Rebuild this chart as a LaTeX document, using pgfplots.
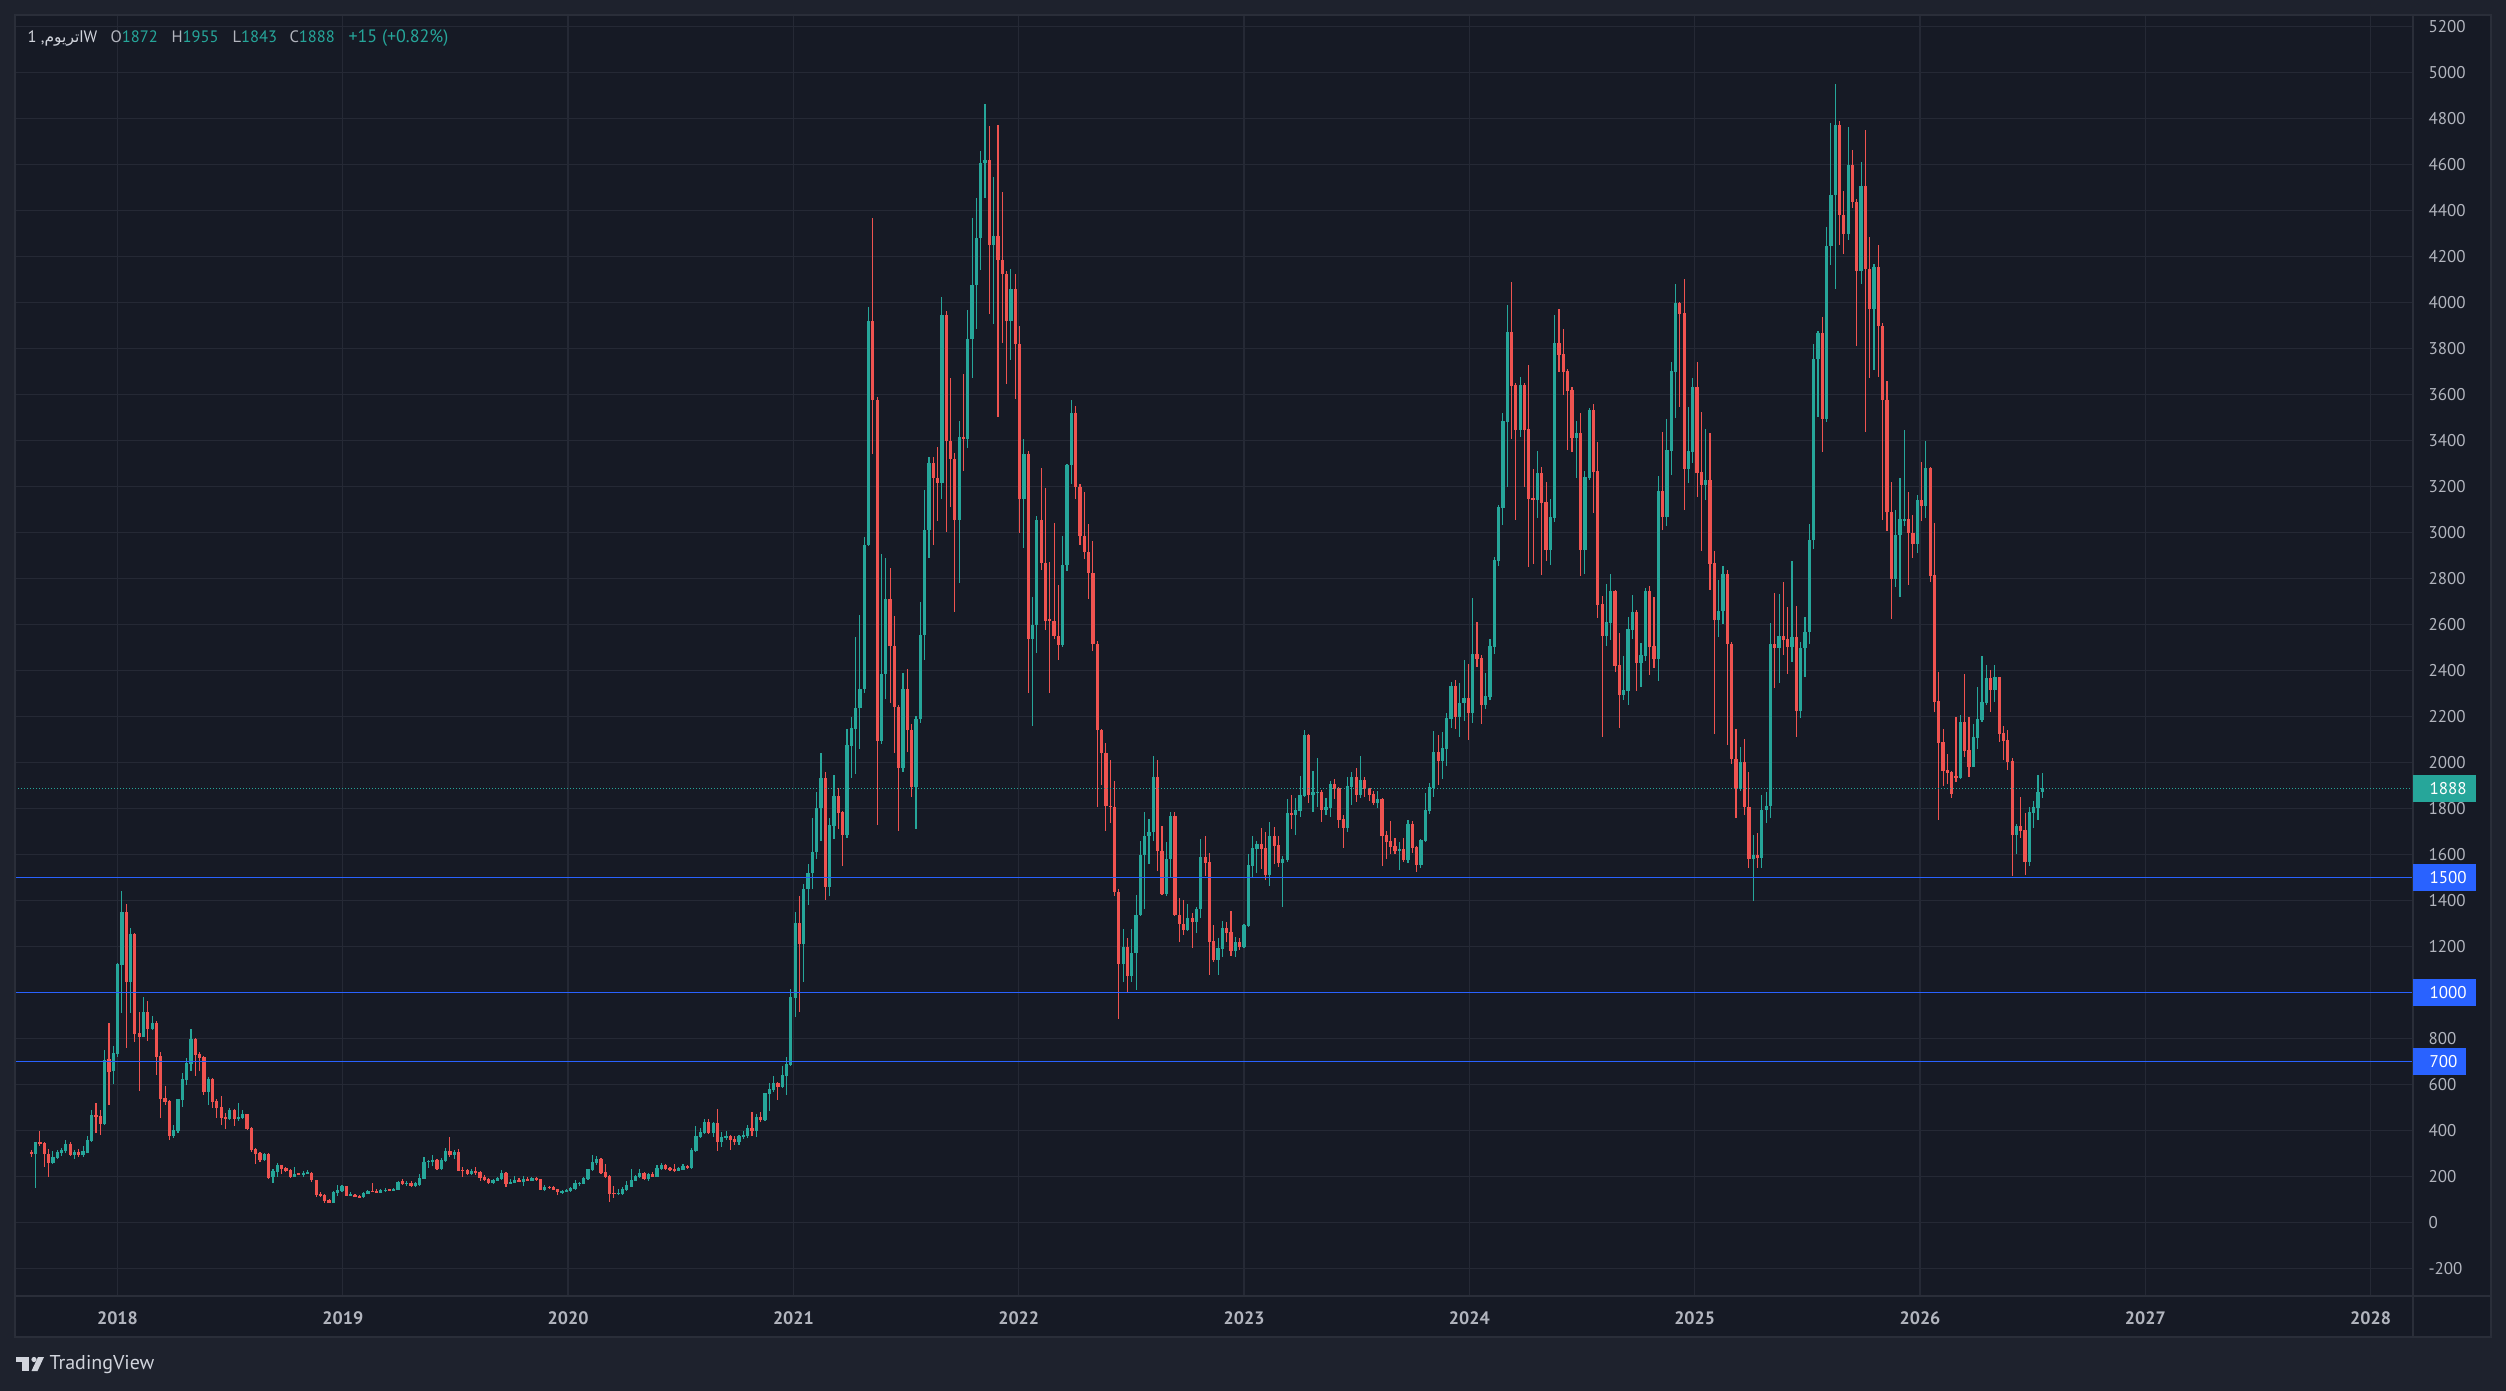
\documentclass[border=0pt]{standalone}
\usepackage{fontspec}
\setmainfont{PT Sans}
\newfontfamily\arabicfont[Script=Arabic]{DejaVu Sans}
\TeXXeTstate=1
\usepackage{pgfplots}
\usepackage{pgfplotstable}
\pgfplotsset{compat=1.18}
\definecolor{outerbg}{HTML}{1E222D}
\definecolor{panelbg}{HTML}{161A25}
\definecolor{panelline}{HTML}{2A2E39}
\definecolor{gridcol}{HTML}{252935}
\definecolor{tickcol}{HTML}{B2B5BE}
\definecolor{legcol}{HTML}{D1D4DC}
\definecolor{upcol}{HTML}{26A69A}
\definecolor{downcol}{HTML}{EF5350}
\definecolor{levelblue}{HTML}{2962FF}

\pgfplotstableread{
k o h l c
0 306 315 282 300
1 297 350 150 348
2 349 397 330 342
3 345 350 242 295
4 297 319 199 260
5 257 310 254 284
6 279 313 275 305
7 302 324 290 316
8 312 358 300 341
9 341 350 290 293
10 293 315 277 306
11 305 318 282 292
12 292 332 286 310
13 302 376 300 358
14 355 489 350 467
15 467 519 390 460
16 463 489 380 429
17 429 749 425 706
18 710 867 508 655
19 660 767 603 736
20 734 1126 720 1123
21 1119 1441 912 1349
22 1349 1384 760 1047
23 1047 1278 912 1254
24 1254 1258 786 820
25 823 915 573 807
26 807 980 805 915
27 915 963 789 841
28 841 897 835 865
29 865 874 641 720
30 723 741 455 536
31 541 593 512 525
32 529 532 360 376
33 376 423 368 402
34 397 536 390 536
35 534 648 503 623
36 619 714 597 693
37 689 841 660 797
38 797 803 638 728
39 732 742 660 715
40 719 722 554 567
41 567 631 510 623
42 623 627 497 523
43 529 535 455 499
44 502 550 423 455
45 458 474 407 451
46 451 497 447 489
47 489 492 420 451
48 451 519 442 458
49 455 490 448 471
50 471 473 403 406
51 412 415 307 315
52 319 324 255 297
53 302 305 264 271
54 271 300 268 297
55 297 300 189 192
56 199 232 173 222
57 219 258 199 248
58 248 250 208 232
59 236 241 219 225
60 228 232 193 197
61 199 241 197 210
62 212 215 204 207
63 207 223 199 216
64 212 228 210 216
65 215 218 176 182
66 184 186 108 121
67 125 131 108 116
68 121 125 86 94
69 99 102 84 86
70 86 138 84 134
71 128 163 116 141
72 138 163 134 158
73 158 160 114 116
74 116 131 114 121
75 121 124 110 112
76 116 118 106 108
77 108 133 106 129
78 125 142 123 138
79 136 171 132 134
80 138 145 127 129
81 129 145 127 141
82 136 150 134 142
83 142 145 136 138
84 138 151 136 147
85 142 180 140 176
86 180 190 164 167
87 167 180 158 171
88 171 180 155 158
89 158 177 154 171
90 163 212 160 193
91 189 286 187 263
92 263 271 238 267
93 263 293 247 271
94 271 276 228 230
95 233 278 228 271
96 268 323 264 310
97 310 371 285 291
98 294 315 275 306
99 306 320 223 225
100 228 239 199 225
101 228 231 204 210
102 210 231 205 225
103 225 239 205 216
104 219 222 181 193
105 196 205 181 184
106 188 192 168 173
107 173 190 168 186
108 180 196 178 193
109 189 228 186 215
110 215 218 154 168
111 168 189 165 177
112 173 202 171 186
113 186 193 174 177
114 177 202 160 189
115 190 197 179 181
116 181 197 179 193
117 193 196 180 184
118 189 190 140 141
119 141 162 138 154
120 154 157 146 149
121 154 156 140 141
122 145 147 119 132
123 131 141 122 134
124 134 144 130 141
125 136 152 134 149
126 145 184 142 171
127 168 176 158 171
128 167 199 165 193
129 189 232 186 232
130 228 293 225 262
131 258 288 248 275
132 275 279 212 214
133 219 254 194 197
134 201 205 89 123
135 128 158 106 124
136 123 145 120 128
137 123 152 121 145
138 141 180 138 162
139 155 232 153 184
140 180 205 178 201
141 196 232 193 215
142 215 220 186 189
143 189 213 181 210
144 210 219 195 197
145 197 249 195 236
146 232 258 228 249
147 249 252 228 232
148 236 239 225 228
149 232 254 219 222
150 225 239 222 235
151 228 254 226 245
152 245 249 233 236
153 236 323 234 315
154 310 419 306 375
155 371 410 366 393
156 388 449 386 436
157 436 449 386 388
158 388 435 371 432
159 432 493 310 349
160 349 393 328 371
161 367 397 358 375
162 375 380 315 358
163 362 375 336 349
164 349 380 336 375
165 371 397 362 380
166 375 423 368 410
167 410 480 375 397
168 397 471 371 458
169 458 480 436 445
170 445 562 442 562
171 558 607 484 580
172 575 636 567 606
173 606 610 532 588
174 588 680 584 641
175 636 719 554 688
176 684 1014 680 980
177 975 1350 893 1300
178 1300 1420 914 1210
179 1210 1470 1045 1450
180 1450 1560 1380 1520
181 1520 1756 1450 1609
182 1609 1873 1580 1802
183 1802 2040 1657 1932
184 1932 1960 1400 1460
185 1460 1760 1420 1728
186 1722 1947 1665 1852
187 1852 1890 1710 1780
188 1782 1790 1550 1683
189 1683 2144 1670 2075
190 2072 2196 1930 2148
191 2144 2544 1949 2237
192 2237 2641 2057 2319
193 2317 2980 2300 2944
194 2944 3980 2940 3920
195 3920 4367 3342 3576
196 3576 3590 1728 2094
197 2094 2905 2080 2382
198 2382 2888 2274 2710
199 2710 2844 2258 2505
200 2505 2637 2042 2241
201 2241 2250 1700 1977
202 1977 2388 1960 2319
203 2319 2404 2045 2139
204 2139 2165 1850 1893
205 1893 2200 1711 2187
206 2187 2695 2170 2553
207 2553 3184 2446 3009
208 3009 3327 2890 3301
209 3301 3329 2944 3236
210 3236 3372 3048 3214
211 3214 4023 3143 3945
212 3945 3963 3002 3398
213 3398 3671 3110 3318
214 3318 3344 2652 3052
215 3052 3485 2780 3413
216 3413 3688 3268 3405
217 3407 3967 3366 3840
218 3840 4367 3673 4075
219 4075 4454 3885 4279
220 4279 4657 4140 4605
221 4605 4863 4454 4618
222 4618 4767 3950 4250
223 4250 4545 3907 4287
224 4287 4772 3500 4186
225 4186 4479 3825 4121
226 4123 4136 3644 3918
227 3918 4144 3749 4057
228 4057 4123 3578 3820
229 3820 3897 2995 3146
230 3146 3404 2930 3340
231 3340 3352 2300 2534
232 2534 2719 2160 2598
233 2598 3069 2476 3053
234 3053 3280 2837 2866
235 2866 3193 2576 2616
236 2621 2871 2300 2613
237 2613 3040 2534 2548
238 2548 2769 2447 2511
239 2511 2982 2503 2856
240 2856 3298 2830 3293
241 3293 3575 3209 3517
242 3517 3549 3143 3196
243 3196 3209 2945 2982
244 2982 3175 2882 2916
245 2916 3035 2708 2822
246 2822 2961 2482 2516
247 2516 2529 1804 2142
248 2142 2145 1902 2042
249 2042 2086 1702 1812
250 1812 2010 1738 1804
251 1804 1918 1420 1436
252 1436 1450 882 1125
253 1125 1277 1046 1196
254 1196 1238 1000 1072
255 1072 1277 1046 1169
256 1169 1422 1009 1338
257 1338 1660 1330 1596
258 1596 1783 1362 1678
259 1678 1752 1560 1699
260 1699 2026 1660 1936
261 1936 2010 1528 1615
262 1615 1725 1425 1428
263 1428 1652 1420 1578
264 1578 1786 1496 1765
265 1765 1786 1330 1335
266 1335 1409 1219 1296
267 1296 1401 1251 1272
268 1272 1383 1266 1322
269 1322 1343 1193 1304
270 1304 1370 1256 1364
271 1364 1665 1322 1588
272 1588 1678 1504 1562
273 1567 1604 1077 1220
274 1223 1293 1133 1141
275 1141 1236 1077 1193
276 1190 1310 1155 1280
277 1280 1306 1220 1258
278 1262 1354 1160 1181
279 1181 1241 1155 1218
280 1218 1236 1186 1197
281 1197 1297 1193 1293
282 1288 1601 1284 1554
283 1549 1680 1501 1628
284 1623 1658 1519 1645
285 1645 1715 1536 1623
286 1628 1697 1488 1510
287 1510 1741 1462 1680
288 1680 1719 1558 1636
289 1641 1680 1545 1562
290 1562 1593 1371 1580
291 1575 1841 1567 1780
292 1780 1858 1710 1771
293 1771 1845 1684 1793
294 1788 1941 1762 1858
295 1853 2140 1849 2119
296 2119 2125 1823 1858
297 1858 1962 1784 1871
298 1867 2019 1806 1871
299 1871 1880 1741 1793
300 1793 1845 1771 1806
301 1801 1919 1762 1906
302 1906 1928 1841 1884
303 1888 1893 1715 1749
304 1754 1771 1628 1715
305 1715 1936 1697 1897
306 1893 1958 1815 1936
307 1936 1975 1828 1858
308 1858 2027 1845 1923
309 1923 1936 1849 1884
310 1888 1888 1832 1858
311 1862 1875 1815 1823
312 1823 1875 1801 1841
313 1841 1845 1549 1680
314 1684 1702 1580 1654
315 1658 1745 1602 1632
316 1636 1671 1602 1615
317 1615 1654 1532 1623
318 1623 1671 1567 1575
319 1575 1749 1562 1732
320 1732 1745 1606 1628
321 1632 1636 1523 1554
322 1554 1667 1541 1662
323 1658 1867 1654 1793
324 1788 1910 1775 1893
325 1888 2136 1849 2045
326 2045 2119 1901 2006
327 2006 2132 1928 2062
328 2058 2214 1984 2193
329 2188 2350 2150 2330
330 2330 2360 2145 2196
331 2196 2344 2112 2260
332 2260 2445 2180 2278
333 2278 2428 2098 2216
334 2216 2713 2170 2471
335 2471 2610 2416 2449
336 2452 2467 2167 2250
337 2250 2387 2232 2289
338 2286 2536 2270 2506
339 2503 2891 2473 2880
340 2875 3119 2855 3112
341 3107 3519 3032 3484
342 3480 3988 3199 3871
343 3871 4088 3406 3638
344 3641 3650 3054 3445
345 3445 3675 3416 3641
346 3641 3650 3198 3445
347 3449 3728 2851 3145
348 3151 3275 2864 3141
349 3141 3354 3062 3258
350 3258 3284 2816 3129
351 3132 3219 2877 2923
352 2923 3145 2860 3067
353 3062 3945 3046 3823
354 3823 3971 3699 3771
355 3775 3884 3599 3699
356 3702 3710 3358 3615
357 3619 3632 3349 3410
358 3410 3484 3238 3432
359 3432 3519 2808 2923
360 2923 3267 2820 3241
361 3236 3541 3228 3532
362 3532 3558 3086 3262
363 3267 3393 2628 2684
364 2688 2723 2112 2550
365 2550 2775 2506 2610
366 2606 2819 2532 2745
367 2745 2750 2393 2419
368 2423 2562 2150 2293
369 2293 2462 2271 2315
370 2311 2632 2250 2580
371 2576 2728 2536 2654
372 2654 2663 2310 2432
373 2432 2519 2328 2467
374 2462 2758 2441 2745
375 2745 2767 2380 2502
376 2506 2719 2410 2450
377 2450 3245 2354 3180
378 3180 3436 3010 3067
379 3067 3493 3028 3358
380 3354 3741 3249 3702
381 3697 4080 3497 3997
382 3997 4001 3546 3949
383 3954 4101 3097 3275
384 3275 3545 3215 3354
385 3349 3671 3302 3632
386 3632 3741 3154 3258
387 3262 3523 2919 3206
388 3206 3449 3141 3228
389 3228 3432 2750 2862
390 2867 2919 2123 2619
391 2619 2793 2547 2658
392 2657 2852 2603 2820
393 2820 2836 2077 2513
394 2513 2524 1991 2014
395 2014 2147 1756 1886
396 1886 2068 1874 2002
397 2002 2100 1770 1805
398 1805 1956 1541 1579
399 1579 1686 1395 1595
400 1595 1693 1541 1584
401 1584 1858 1541 1793
402 1793 1872 1735 1809
403 1809 2606 1756 2515
404 2515 2736 2324 2496
405 2496 2731 2347 2550
406 2550 2785 2468 2533
407 2536 2676 2382 2503
408 2503 2876 2438 2545
409 2545 2680 2112 2224
410 2224 2524 2191 2496
411 2496 2631 2373 2566
412 2566 3037 2515 2967
413 2967 3819 2929 3754
414 3754 3875 3500 3866
415 3866 3936 3351 3491
416 3491 4327 3480 4245
417 4245 4779 4161 4467
418 4467 4949 4057 4772
419 4772 4788 4250 4380
420 4380 4483 4208 4299
421 4299 4762 4273 4597
422 4597 4662 4408 4434
423 4434 4450 3812 4134
424 4134 4611 4080 4506
425 4506 4748 3435 4143
426 4143 4285 3672 3973
427 3973 4168 3707 4155
428 4155 4250 3677 3898
429 3898 3910 3055 3577
430 3577 3656 3004 3090
431 3090 3218 2624 2797
432 2797 3097 2764 2988
433 2988 3237 2718 3058
434 3051 3446 3027 3058
435 3058 3176 2773 2995
436 2995 3076 2887 2948
437 2948 3162 2908 3139
438 3141 3306 3049 3115
439 3115 3397 3062 3280
440 3280 3285 2784 2810
441 2815 3041 2219 2262
442 2267 2393 1750 2084
443 2089 2145 1897 1963
444 1967 2037 1906 1954
445 1958 1962 1845 1862
446 1941 2197 1915 1932
447 1932 2206 1928 2176
448 2176 2384 2023 2049
449 2054 2197 1936 1980
450 1980 2167 1978 2110
451 2106 2328 2058 2189
452 2184 2462 2176 2262
453 2258 2423 2250 2367
454 2367 2402 2219 2315
455 2315 2423 2262 2371
456 2371 2373 2089 2123
457 2128 2158 2010 2093
458 2097 2141 1967 2002
459 2006 2019 1506 1684
460 1684 1732 1602 1723
461 1723 1849 1671 1702
462 1706 1780 1510 1567
463 1567 1806 1550 1784
464 1780 1832 1715 1806
465 1802 1945 1750 1871
466 1872 1955 1843 1888
}\candles

\begin{document}
\begin{tikzpicture}
\begin{scope}[x=0.4pt,y=-0.4pt]
  \fill[outerbg] (0,0) rectangle (2506,1391);
  \fill[panelbg] (15,15) rectangle (2491,1337);
\end{scope}
\begin{axis}[
  at={(6pt,-518.4pt)}, anchor=south west,
  scale only axis, width=959.2pt, height=512.4pt,
  xmin=-3.777, xmax=551.9, ymin=-320.4, ymax=5249.1,
  axis line style={draw=none},
  tick style={draw=none},
  major tick length=0pt,
  xtick={19.97,72.18,124.39,176.60,228.81,281.02,333.23,385.44,437.65,489.86,542.07},
  xticklabels={2018,2019,2020,2021,2022,2023,2024,2025,2026,2027,2028},
  ytick={-200,0,200,400,600,800,1000,1200,1400,1600,1800,2000,2200,2400,2600,2800,3000,3200,3400,3600,3800,4000,4200,4400,4600,4800,5000,5200},
  yticklabels={-200,0,200,400,600,800,1000,1200,1400,1600,1800,2000,2200,2400,2600,2800,3000,3200,3400,3600,3800,4000,4200,4400,4600,4800,5000,5200},
  yticklabel pos=right,
  grid=major,
  major grid style={gridcol, line width=0.5pt},
  xticklabel style={font=\bfseries\fontsize{7.2}{8}\selectfont, text=tickcol, anchor=center, yshift=-8.7pt, inner sep=0pt},
  yticklabel style={font=\fontsize{6.8}{8}\selectfont, text=tickcol, anchor=west, xshift=6pt, inner sep=0pt},
  restrict y to domain=-1000:10000,
]
% up wicks
\addplot[draw=none, mark=none, forget plot,
  error bars/.cd, y dir=both, y explicit, error mark=none,
  error bar style={draw=upcol, line width=0.45pt}]
  table[x=k, y expr={ifthenelse(\thisrow{c}<\thisrow{o},-99999,(\thisrow{h}+\thisrow{l})/2)},
        y error expr={(\thisrow{h}-\thisrow{l})/2}] {\candles};
% down wicks
\addplot[draw=none, mark=none, forget plot,
  error bars/.cd, y dir=both, y explicit, error mark=none,
  error bar style={draw=downcol, line width=0.45pt}]
  table[x=k, y expr={ifthenelse(\thisrow{c}<\thisrow{o},(\thisrow{h}+\thisrow{l})/2,-99999)},
        y error expr={(\thisrow{h}-\thisrow{l})/2}] {\candles};
% up bodies
\addplot[draw=none, mark=none, forget plot,
  error bars/.cd, y dir=both, y explicit, error mark=none,
  error bar style={draw=upcol, line width=1.3pt}]
  table[x=k, y expr={ifthenelse(\thisrow{c}<\thisrow{o},-99999,(\thisrow{o}+\thisrow{c})/2)},
        y error expr={max(abs(\thisrow{c}-\thisrow{o})/2,3)}] {\candles};
% down bodies
\addplot[draw=none, mark=none, forget plot,
  error bars/.cd, y dir=both, y explicit, error mark=none,
  error bar style={draw=downcol, line width=1.3pt}]
  table[x=k, y expr={ifthenelse(\thisrow{c}<\thisrow{o},(\thisrow{o}+\thisrow{c})/2,-99999)},
        y error expr={max(abs(\thisrow{c}-\thisrow{o})/2,3)}] {\candles};
% level lines
\addplot[levelblue, line width=0.6pt, forget plot] coordinates {(-3.777,1500) (551.9,1500)};
\addplot[levelblue, line width=0.6pt, forget plot] coordinates {(-3.777,1000) (551.9,1000)};
\addplot[levelblue, line width=0.6pt, forget plot] coordinates {(-3.777,700) (551.9,700)};
\addplot[upcol, line width=0.45pt, dash pattern=on 0.4pt off 0.8pt, forget plot] coordinates {(-3.777,1888) (551.9,1888)};
\end{axis}
\begin{scope}[x=0.4pt,y=-0.4pt]
  \draw[panelline, line width=0.5pt] (15,15) rectangle (2491,1337);
  \draw[panelline, line width=0.5pt] (2413,15) -- (2413,1337);
  \draw[panelline, line width=0.5pt] (15,1296) -- (2491,1296);
  % price labels
  \fill[upcol] (2413,775) rectangle (2476,801.5);
  \node[anchor=west, inner sep=0pt, text=white, font=\fontsize{6.8}{8}\selectfont] at (2429,788.3) {1888};
  \fill[levelblue] (2413,864) rectangle (2476,890.5);
  \node[anchor=west, inner sep=0pt, text=white, font=\fontsize{6.8}{8}\selectfont] at (2429,877.3) {1500};
  \fill[levelblue] (2413,979) rectangle (2476,1005.5);
  \node[anchor=west, inner sep=0pt, text=white, font=\fontsize{6.8}{8}\selectfont] at (2429,992.3) {1000};
  \fill[levelblue] (2413,1048) rectangle (2466,1074.5);
  \node[anchor=west, inner sep=0pt, text=white, font=\fontsize{6.8}{8}\selectfont] at (2429,1061.3) {700};
  % legend
  \node[anchor=base west, inner sep=0pt, text=legcol, font=\fontsize{6.6}{8}\selectfont] at (27,43) {1 ,{\arabicfont\fontsize{6.2}{8}\selectfont\beginR اتریوم\endR}W};
  \node[anchor=base west, inner sep=0pt, font=\fontsize{6.6}{8}\selectfont] at (110,43) {\textcolor{tickcol}{O}\textcolor{upcol}{1872}};
  \node[anchor=base west, inner sep=0pt, font=\fontsize{6.6}{8}\selectfont] at (171,43) {\textcolor{tickcol}{H}\textcolor{upcol}{1955}};
  \node[anchor=base west, inner sep=0pt, font=\fontsize{6.6}{8}\selectfont] at (232,43) {\textcolor{tickcol}{L}\textcolor{upcol}{1843}};
  \node[anchor=base west, inner sep=0pt, font=\fontsize{6.6}{8}\selectfont] at (289,43) {\textcolor{tickcol}{C}\textcolor{upcol}{1888}};
  \node[anchor=base west, inner sep=0pt, text=upcol, font=\fontsize{7.2}{8}\selectfont] at (348,43) {+15 (+0.82\%)};
  % TradingView logo
  \fill[legcol] (15.5,1357) rectangle (29,1362);
  \fill[legcol] (22,1357) rectangle (29,1371);
  \fill[legcol] (34,1359.5) circle (2.6);
  \fill[legcol] (38,1357) -- (44,1357) -- (37.5,1371) -- (31.5,1371) -- cycle;
  \node[anchor=west, inner sep=0pt, text=legcol, font=\fontsize{8}{9}\selectfont] at (49,1364.5) {TradingView};
  \pgfresetboundingbox
  \path[use as bounding box] (0,0) rectangle (2506,1391);
\end{scope}
\end{tikzpicture}
\end{document}
